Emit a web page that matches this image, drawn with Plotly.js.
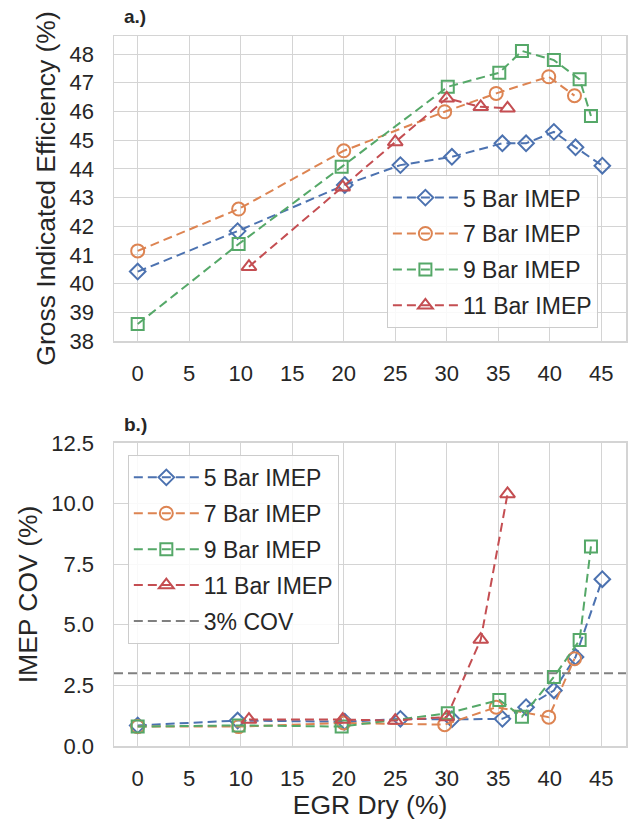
<!DOCTYPE html>
<html>
<head>
<meta charset="utf-8">
<script src="https://cdn.plot.ly/plotly-3.0.1.min.js"></script>
<style>
html, body { margin: 0; padding: 0; background: #ffffff; }
#chart { width: 633px; height: 820px; }
</style>
</head>
<body>
<div id="chart"></div>
<script>
// ---- data ----
const seriesNames = ["5 Bar IMEP", "7 Bar IMEP", "9 Bar IMEP", "11 Bar IMEP"];

const egr5  = [0, 9.7, 20.1, 25.5, 30.5, 35.4, 37.7, 40.4, 42.5, 45.1];
const eff5  = [40.42, 41.83, 43.44, 44.13, 44.42, 44.89, 44.89, 45.29, 44.75, 44.11];
const cov5  = [0.85, 1.05, 1.0, 1.12, 1.1, 1.12, 1.6, 2.29, 3.67, 6.88];

const egr7  = [0, 9.8, 20.0, 29.8, 34.8, 39.9, 42.4];
const eff7  = [41.14, 42.6, 44.63, 45.99, 46.63, 47.21, 46.55];
const cov7  = [0.8, 0.8, 0.95, 0.88, 1.6, 1.19, 3.6];

const egr9  = [0, 9.8, 19.8, 30.1, 35.1, 37.3, 40.4, 42.9, 44.0];
const eff9  = [38.59, 41.38, 44.07, 46.86, 47.35, 48.11, 47.79, 47.12, 45.84];
const cov9  = [0.8, 0.85, 0.8, 1.35, 1.9, 1.21, 2.85, 4.37, 8.23];

const egr11 = [10.8, 19.9, 25.0, 30.0, 33.3, 35.9];
const eff11 = [40.59, 43.36, 44.94, 46.46, 46.16, 46.11];
const cov11 = [1.09, 1.09, 1.05, 1.2, 4.39, 10.4];

const covLimit = 3;
const covLimitName = "3% COV";
const xTickVals = [0, 5, 10, 15, 20, 25, 30, 35, 40, 45];
const yTopTicks = [38, 39, 40, 41, 42, 43, 44, 45, 46, 47, 48];
const yBotTicks = [0, 2.5, 5, 7.5, 10, 12.5];

// ---- styles ----
const colors  = ["#4c72b0", "#dd8452", "#55a868", "#c44e52"];
const symbols = ["diamond-open", "circle-open", "square-open", "triangle-up-open"];
const msizes  = [12, 13, 12, 13];
const dashPat = "9px,5px";

const egrs = [egr5, egr7, egr9, egr11];
const effs = [eff5, eff7, eff9, eff11];
const covs = [cov5, cov7, cov9, cov11];

const traces = [];
for (let i = 0; i < 4; i++) {
  traces.push({
    x: egrs[i], y: effs[i], type: "scatter", mode: "lines+markers",
    name: seriesNames[i], xaxis: "x", yaxis: "y", legend: "legend",
    legendgroup: "a" + i,
    line: { color: colors[i], width: 2, dash: dashPat },
    marker: { symbol: symbols[i], size: msizes[i], color: colors[i], line: { width: 2, color: colors[i] } }
  });
}
for (let i = 0; i < 4; i++) {
  traces.push({
    x: egrs[i], y: covs[i], type: "scatter", mode: "lines+markers",
    name: seriesNames[i], xaxis: "x2", yaxis: "y2", legend: "legend2",
    legendgroup: "b" + i,
    line: { color: colors[i], width: 2, dash: dashPat },
    marker: { symbol: symbols[i], size: msizes[i], color: colors[i], line: { width: 2, color: colors[i] } }
  });
}
// 3% COV reference line spanning the full x range
const xr = [-2.3, 47.4];
traces.push({
  x: xr, y: [covLimit, covLimit], type: "scatter", mode: "lines",
  name: covLimitName, xaxis: "x2", yaxis: "y2", legend: "legend2",
  legendgroup: "b4",
  line: { color: "#808080", width: 2, dash: dashPat }
});

const font = { family: "Liberation Sans, Arial, sans-serif", color: "#262626" };
const gridC = "#d4d4d4";
const titleSize = 26.5;

function xAxis(anchor, showTitle) {
  const ax = {
    anchor: anchor, range: xr, tickvals: xTickVals, ticks: "",
    showgrid: true, gridcolor: gridC, gridwidth: 1,
    showline: true, linecolor: gridC, linewidth: 1.5, mirror: true,
    zeroline: false, tickfont: { size: 22, color: "#262626" },
    ticklabelstandoff: 12
  };
  if (showTitle) ax.title = { text: "EGR Dry (%)", font: { size: titleSize, color: "#262626" }, standoff: 4 };
  return ax;
}

const legendCommon = {
  xanchor: "left", yanchor: "top",
  bgcolor: "rgba(255,255,255,0.85)", bordercolor: "#cccccc", borderwidth: 1,
  font: { size: 23, color: "#262626" }, traceorder: "grouped", tracegroupgap: 3,
  itemwidth: 65
};

const layout = {
  width: 633, height: 820,
  margin: { l: 114, r: 7, t: 36, b: 74 },
  paper_bgcolor: "#ffffff", plot_bgcolor: "#ffffff",
  font: font, showlegend: true,
  xaxis: xAxis("y", false),
  xaxis2: xAxis("y2", true),
  yaxis: {
    domain: [0.5704, 1], range: [38.0, 48.63], tickvals: yTopTicks, ticks: "",
    showgrid: true, gridcolor: gridC, showline: true, linecolor: gridC, linewidth: 1.5, mirror: true,
    zeroline: false, tickfont: { size: 22, color: "#262626" }, ticklabelstandoff: 14,
    title: { text: "Gross Indicated Efficiency (%)", font: { size: titleSize, color: "#262626" }, standoff: 6 }
  },
  yaxis2: {
    domain: [0, 0.4268], range: [0, 12.5], tickvals: yBotTicks, tickformat: ".1f", ticks: "",
    showgrid: true, gridcolor: gridC, showline: true, linecolor: gridC, linewidth: 1.5, mirror: true,
    zeroline: false, tickfont: { size: 22, color: "#262626" }, ticklabelstandoff: 14,
    title: { text: "IMEP COV (%)", font: { size: titleSize, color: "#262626" }, standoff: 6 }
  },
  legend: Object.assign({ x: 0.533, y: 0.804 }, legendCommon),
  legend2: Object.assign({ x: 0.027, y: 0.41 }, legendCommon),
  annotations: [
    { text: "<b>a.)</b>", xref: "paper", yref: "paper", x: 0.0156, y: 1.027,
      xanchor: "left", yanchor: "middle", showarrow: false, font: { size: 19, color: "#262626" } },
    { text: "<b>b.)</b>", xref: "paper", yref: "paper", x: 0.0156, y: 0.4535,
      xanchor: "left", yanchor: "middle", showarrow: false, font: { size: 19, color: "#262626" } }
  ]
};

Plotly.newPlot("chart", traces, layout, { displayModeBar: false, staticPlot: true });
</script>
</body>
</html>
